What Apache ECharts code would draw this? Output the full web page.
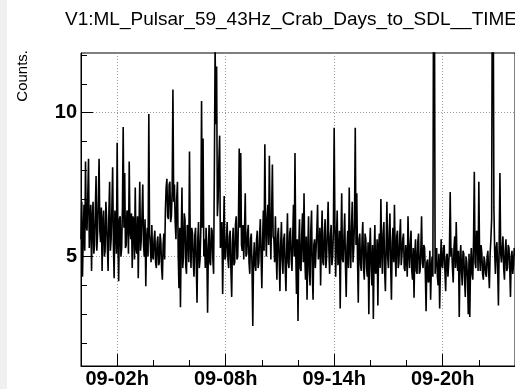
<!DOCTYPE html>
<html>
<head>
<meta charset="utf-8">
<script src="https://cdn.jsdelivr.net/npm/echarts@6/dist/echarts.min.js"></script>
<style>
html,body{margin:0;padding:0;background:#fff;}
#chart{width:515px;height:389px;}
</style>
</head>
<body>
<div id="chart"></div>
<script>
const chartTitle = 'V1:ML_Pulsar_59_43Hz_Crab_Days_to_SDL__TIME';
const yTitle = 'Counts.';
const startHour = 0;
const stepHours = 1 / 24;
const xMajorHours = [2, 8, 14, 20];
const xTickLabels = ['09-02h', '09-08h', '09-14h', '09-20h'];
const xMinorHours = [0, 4, 6, 10, 12, 16, 18, 22, 24];
const yMajor = [5, 10];
const yMinor = [2, 3, 4, 6, 7, 8, 9, 11, 12];
// one row per hour of the day (2.5 min bins)
const counts = [
  5.6,6.9,4.3,5.8,6.8,5.2,8.3,6.1,5.9,7.1,8.4,5.3,6.2,6.8,4.5,6.3,6.9,5.1,5.4,6.6,7.8,5.2,5.8,7.0,
  8.4,5.9,5.5,6.7,4.5,6.2,6.6,5.0,5.2,6.9,6.3,5.3,4.5,6.5,7.6,5.2,5.6,6.7,8.1,5.4,4.25,6.6,6.2,5.1,
  8.95,5.6,4.14,6.3,6.4,5.0,5.3,6.7,9.5,6.0,7.9,5.3,5.4,6.6,6.5,5.1,8.3,5.9,5.6,6.5,4.6,6.4,6.2,4.9,
  7.4,5.3,5.1,6.4,4.25,6.0,7.6,5.2,5.6,6.5,7.5,5.4,5.0,6.3,3.97,5.6,6.0,5.0,9.95,5.8,5.4,4.8,6.1,5.0,
  4.9,5.6,5.9,4.8,4.6,5.5,5.7,4.7,4.8,5.8,5.5,4.6,4.2,5.4,5.8,4.9,6.6,7.4,7.7,6.4,6.3,7.5,7.6,6.2,
  6.4,7.3,10.8,6.9,7.5,6.2,5.6,7.0,7.6,5.1,3.9,6.0,3.24,5.6,7.4,4.6,5.0,6.5,6.3,4.7,4.4,6.1,5.9,4.8,
  8.65,5.5,4.6,6.0,5.8,4.8,4.3,5.7,6.0,4.7,3.4,5.6,6.2,4.6,4.9,5.9,10.4,6.0,9.1,5.0,5.6,4.6,6.0,5.2,
  3.05,5.2,6.1,4.8,4.7,6.0,5.9,4.9,4.4,8.0,12.3,9.6,11.6,6.4,7.0,8.3,9.2,5.3,5.6,6.2,3.7,5.5,7.1,4.9,
  5.0,5.6,6.2,4.9,4.6,5.7,5.9,4.5,3.6,5.5,6.0,4.7,4.8,6.1,6.4,4.9,5.0,6.3,8.75,6.0,8.6,5.4,5.2,6.1,
  4.9,5.9,7.2,5.0,5.1,5.8,6.1,4.8,4.4,5.6,5.8,4.6,2.59,4.9,5.5,4.7,4.5,5.6,5.9,4.6,4.8,5.7,6.3,5.0,
  3.9,5.5,6.6,5.2,8.9,6.1,5.0,6.3,6.8,5.4,8.5,6.0,4.9,6.5,8.2,5.7,5.6,4.8,6.4,5.1,4.2,5.7,6.0,4.9,
  3.8,5.4,6.2,4.9,4.4,5.6,5.8,4.6,3.8,5.2,6.5,4.8,4.6,5.8,6.0,4.9,4.5,5.7,6.8,5.0,8.6,5.2,3.7,5.6,
  2.76,5.3,6.3,4.6,4.5,5.8,6.5,4.8,7.2,5.0,4.2,5.7,3.5,5.1,6.4,4.5,4.0,5.9,6.6,4.4,3.5,5.4,5.6,4.6,
  4.6,5.9,6.8,4.9,5.2,6.0,4.0,5.5,6.6,4.8,4.7,5.8,6.3,4.6,5.0,5.9,6.9,5.2,4.4,5.7,6.1,4.7,5.0,5.9,
  9.47,6.1,4.3,5.6,6.6,4.7,5.0,5.9,3.2,5.5,7.2,4.9,4.8,5.7,6.5,4.7,3.6,5.3,5.9,4.6,7.4,5.3,4.6,6.0,
  6.9,4.8,5.3,6.3,9.47,5.4,7.2,4.9,3.4,5.6,5.8,4.7,4.5,5.6,6.2,4.6,4.2,5.8,5.6,4.6,4.3,5.5,3.0,5.2,
  6.0,4.7,4.0,5.4,2.83,5.0,6.1,4.4,4.5,5.6,3.3,5.3,5.8,4.6,7.0,5.2,4.4,5.8,6.2,4.5,3.8,5.4,6.9,5.0,
  4.6,5.8,6.5,4.7,3.5,5.5,6.0,4.8,6.8,5.1,4.3,5.7,5.9,4.6,4.8,5.7,6.3,4.7,5.1,5.6,5.8,4.6,4.5,5.4,
  5.0,4.3,6.4,5.2,4.6,5.4,5.9,4.5,4.2,5.3,3.57,5.1,5.6,4.5,4.4,5.5,5.8,4.4,4.5,5.2,6.4,4.8,4.6,5.4,
  5.3,4.4,3.1,4.8,4.9,4.1,4.2,5.2,3.5,4.6,5.0,4.3,16.0,15.0,4.4,5.0,5.3,4.3,4.0,5.1,3.2,4.6,5.6,4.7,
  4.6,5.3,5.4,4.5,3.8,5.0,5.1,4.3,4.3,5.2,7.24,5.0,5.3,4.6,4.1,5.3,5.7,4.6,6.2,4.9,4.5,5.2,2.9,4.8,
  5.4,4.5,4.0,5.2,5.1,4.3,3.6,5.0,4.8,4.2,3.0,5.1,2.9,4.7,5.3,4.4,4.2,5.6,7.95,4.8,4.6,5.9,5.8,4.5,
  7.6,5.0,4.5,5.4,5.1,4.4,4.2,5.0,4.8,4.4,4.3,5.0,5.2,4.5,3.9,5.1,5.6,6.3,16.0,15.0,6.7,5.2,4.4,5.3,
  5.5,4.6,3.3,5.4,7.9,5.1,4.8,5.3,5.7,4.6,4.2,5.2,5.6,4.5,4.6,5.4,5.3,4.6,3.6,5.0,5.2,4.4,4.7,5.3,
  5.0
];

const FONT = '"Liberation Sans", Arial, Helvetica, sans-serif';
const seriesData = counts.map((v, i) => [startHour + i * stepHours, v]);
const X_MIN = 0, X_MAX = 24, Y_MIN = 1.2, Y_MAX = 12.07;

const chart = echarts.init(document.getElementById('chart'), null, {renderer: 'canvas'});
chart.setOption({
  animation: false,
  backgroundColor: '#ffffff',
  grid: {left: 81, top: 53, right: -3, bottom: 21, show: true, borderColor: '#000', borderWidth: 1, backgroundColor: 'transparent'},
  graphic: [
    {type: 'rect', left: 0, top: 0, shape: {width: 7, height: 389}, style: {fill: '#f0f0f0'}, silent: true},
    {type: 'text', x: 65, y: 20, style: {text: chartTitle, font: '19px ' + FONT, fill: '#000', textAlign: 'left', textVerticalAlign: 'middle'}},
    {type: 'text', x: 23, y: 50, rotation: Math.PI / 2, style: {text: yTitle, font: '15px ' + FONT, fill: '#000', textAlign: 'right', textVerticalAlign: 'middle'}}
  ],
  xAxis: [
    {
      type: 'value', min: X_MIN, max: X_MAX, position: 'bottom',
      axisLine: {show: true, lineStyle: {color: '#000', width: 1}},
      axisTick: {show: true, inside: true, length: 12, customValues: xMajorHours, lineStyle: {color: '#000'}},
      axisLabel: {show: true, customValues: xMajorHours, margin: 3, color: '#000', fontSize: 20, fontWeight: 'bold', fontFamily: FONT,
        formatter: v => { const k = xMajorHours.indexOf(Math.round(v)); return k >= 0 ? xTickLabels[k] : ''; }},
      splitLine: {show: true, lineStyle: {color: '#999', type: [1, 2], width: 1}}
    },
    {
      type: 'value', min: X_MIN, max: X_MAX, position: 'bottom',
      axisLine: {show: false},
      axisTick: {show: true, inside: true, length: 6, customValues: xMinorHours, lineStyle: {color: '#000'}},
      axisLabel: {show: false},
      splitLine: {show: false}
    }
  ],
  yAxis: [
    {
      type: 'value', min: Y_MIN, max: Y_MAX, position: 'left',
      axisLine: {show: true, lineStyle: {color: '#000', width: 1}},
      axisTick: {show: true, inside: true, length: 12, customValues: yMajor, lineStyle: {color: '#000'}},
      axisLabel: {show: true, customValues: yMajor, margin: 4, color: '#000', fontSize: 20, fontWeight: 'bold', fontFamily: FONT},
      splitLine: {show: true, lineStyle: {color: '#999', type: [1, 2], width: 1}}
    },
    {
      type: 'value', min: Y_MIN, max: Y_MAX, position: 'left',
      axisLine: {show: false},
      axisTick: {show: true, inside: true, length: 6, customValues: yMinor, lineStyle: {color: '#000'}},
      axisLabel: {show: false},
      splitLine: {show: false}
    }
  ],
  series: [{
    type: 'line', xAxisIndex: 0, yAxisIndex: 0, data: seriesData,
    showSymbol: false, symbol: 'none', sampling: null, clip: true,
    lineStyle: {color: '#000', width: 1.6}
  }]
});
</script>
</body>
</html>
